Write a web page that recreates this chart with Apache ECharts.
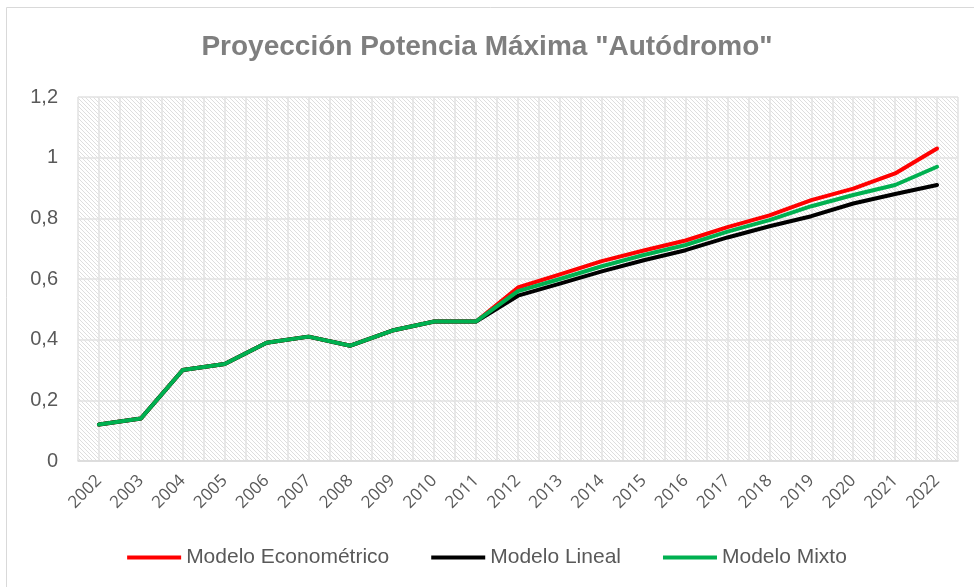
<!DOCTYPE html>
<html>
<head>
    <meta charset="utf-8">
    <style>
        html, body { margin: 0; padding: 0; background: #fff; }
        #chart-container { width: 974px; height: 587px; }
    </style>
</head>
<body>
    <div id="chart-container"></div>
    <script src="https://cdn.jsdelivr.net/npm/echarts@6/dist/echarts.min.js"></script>
    <script>
        // data
        var years = ['2002', '2003', '2004', '2005', '2006', '2007', '2008', '2009', '2010', '2011',
            '2012', '2013', '2014', '2015', '2016', '2017', '2018', '2019', '2020', '2021', '2022'];
        var econometrico = [0.12, 0.14, 0.30, 0.32, 0.39, 0.41, 0.38, 0.43, 0.46, 0.46,
            0.572, 0.615, 0.659, 0.694, 0.727, 0.771, 0.81, 0.86, 0.898, 0.948, 1.03];
        var lineal = [0.12, 0.14, 0.30, 0.32, 0.39, 0.41, 0.38, 0.43, 0.46, 0.46,
            0.545, 0.585, 0.625, 0.662, 0.695, 0.737, 0.774, 0.807, 0.849, 0.88, 0.91];
        var mixto = [0.12, 0.14, 0.30, 0.32, 0.39, 0.41, 0.38, 0.43, 0.46, 0.46,
            0.56, 0.60, 0.642, 0.679, 0.712, 0.756, 0.794, 0.84, 0.877, 0.91, 0.97];
        var yTicks = [0, 0.2, 0.4, 0.6, 0.8, 1, 1.2];

        // hatch pattern for the plot area (downward diagonal)
        function makeHatch() {
            var c = document.createElement('canvas');
            c.width = 8; c.height = 8;
            var ctx = c.getContext('2d');
            ctx.fillStyle = '#ffffff';
            ctx.fillRect(0, 0, 8, 8);
            ctx.fillStyle = '#dedede';
            for (var y = 0; y < 8; y++) {
                for (var x = 0; x < 8; x++) {
                    if (((x - y) % 4 + 4) % 4 === 0) ctx.fillRect(x, y, 1, 1);
                }
            }
            return c;
        }

        // one extra hidden axis gives grid lines at category centres and boundaries
        var halfSteps = [];
        for (var i = 0; i <= years.length * 2; i++) halfSteps.push(String(i));

        var chart = echarts.init(document.getElementById('chart-container'));
        var font = 'Liberation Sans';
        var option = {
            animation: false,
            textStyle: { fontFamily: font },
            graphic: [{
                type: 'rect',
                shape: { x: 6.5, y: 7.5, width: 980, height: 600 },
                style: { fill: 'none', stroke: '#d9d9d9', lineWidth: 1 },
                silent: true
            }],
            title: {
                text: 'Proyección Potencia Máxima "Autódromo"',
                left: 'center',
                top: 28,
                textStyle: { fontFamily: font, fontSize: 28, fontWeight: 'bold', color: '#7f7f7f' }
            },
            legend: {
                bottom: 14,
                left: 'center',
                icon: 'rect',
                itemWidth: 54,
                itemHeight: 4,
                itemGap: 42,
                textStyle: { fontFamily: font, fontSize: 21, color: '#595959' },
                data: ['Modelo Econométrico', 'Modelo Lineal', 'Modelo Mixto']
            },
            grid: {
                left: 78,
                right: 16,
                top: 97,
                bottom: 126,
                show: true,
                borderWidth: 0,
                backgroundColor: { image: makeHatch(), repeat: 'repeat' }
            },
            xAxis: [{
                type: 'category',
                data: years,
                boundaryGap: true,
                axisLine: { lineStyle: { color: '#d9d9d9', width: 1.5 } },
                axisTick: { show: false },
                splitLine: { show: false },
                axisLabel: {
                    rotate: 45,
                    interval: 0,
                    margin: 17,
                    fontFamily: 'Open Sans',
                    fontSize: 17,
                    color: '#595959'
                }
            }, {
                type: 'category',
                data: halfSteps,
                boundaryGap: false,
                position: 'top',
                axisLine: { show: false },
                axisTick: { show: false },
                axisLabel: { show: false },
                splitLine: { show: true, interval: 0, lineStyle: { color: '#e2e2e2', width: 1.5 } }
            }],
            yAxis: {
                type: 'value',
                min: yTicks[0],
                max: yTicks[yTicks.length - 1],
                interval: 0.2,
                axisLine: { show: false },
                axisTick: { show: false },
                splitLine: { lineStyle: { color: '#e2e2e2', width: 1.5 } },
                axisLabel: {
                    margin: 20,
                    fontFamily: font,
                    fontSize: 20,
                    color: '#595959',
                    formatter: function (v) {
                        return String(Math.round(v * 10) / 10).replace('.', ',');
                    }
                }
            },
            series: [{
                name: 'Modelo Econométrico',
                type: 'line',
                data: econometrico,
                symbol: 'none',
                lineStyle: { color: '#ff0000', width: 4, join: 'round', cap: 'round' },
                itemStyle: { color: '#ff0000' }
            }, {
                name: 'Modelo Lineal',
                type: 'line',
                data: lineal,
                symbol: 'none',
                lineStyle: { color: '#000000', width: 4, join: 'round', cap: 'round' },
                itemStyle: { color: '#000000' }
            }, {
                name: 'Modelo Mixto',
                type: 'line',
                data: mixto,
                symbol: 'none',
                lineStyle: { color: '#00b050', width: 4, join: 'round', cap: 'round' },
                itemStyle: { color: '#00b050' }
            }]
        };
        chart.setOption(option);
    </script>
</body>
</html>
